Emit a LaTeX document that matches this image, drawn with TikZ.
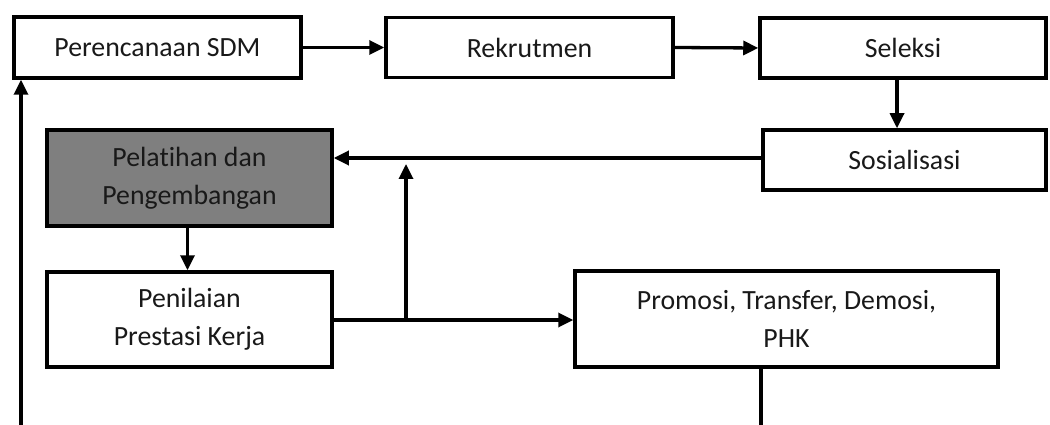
\documentclass[tikz,border=0pt]{standalone}
\usepackage{fontspec}
\setmainfont{Carlito}[Ligatures={CommonOff,ContextualOff}]
\usetikzlibrary{arrows.meta,calc}
\begin{document}
\begin{tikzpicture}[x=1pt,y=-1pt,
  box/.style={draw=black,line width=3.5pt,fill=white,inner sep=0pt,align=center,
    font=\fontsize{27.8}{38}\selectfont,text=black!90},
  arr/.style={line width=3.3pt,-{Triangle[length=15pt,width=14pt]}},
  ln/.style={line width=3.3pt}]
\useasboundingbox (0,0) rectangle (1050,425);
\node[box,minimum width=287pt,minimum height=61pt] (P) at (157.5,47.5) {Perencanaan SDM};
\node[box,minimum width=287pt,minimum height=60pt] (R) at (529.5,47.5) {Rekrutmen};
\node[box,minimum width=286pt,minimum height=60pt] (S) at (903,48) {Seleksi};
\node[box,minimum width=283pt,minimum height=60pt] (So) at (904.5,160) {Sosialisasi};
\node[box,fill={rgb,255:red,127;green,127;blue,127},minimum width=285pt,minimum height=96pt] (G) at (189.5,178) {Pelatihan dan\\Pengembangan};
\node[box,minimum width=285pt,minimum height=95pt] (Pn) at (189.5,319.5) {Penilaian\\Prestasi Kerja};
\node[box,minimum width=423pt,minimum height=96pt] (Pr) at (786.5,319) {Promosi, Transfer, Demosi,\\PHK};
\coordinate (j) at (406,320);
\coordinate (jt) at (406,164);
\coordinate (sb) at (897,78.5);
\coordinate (pb) at (761,425);
\coordinate (lb) at (21,425);
\draw[arr] (P.east) -- (R.west);
\draw[arr] (R.east) -- (S.west);
\draw[arr] (sb) -- (sb |- So.north);
\draw[arr] ([yshift=2pt]So.west) -- ([yshift=2pt]So.west -| G.east);
\draw[arr] ([xshift=-2pt]G.south) -- ([xshift=-2pt]Pn.north);
\draw[arr] (Pn.east |- j) -- (Pr.west |- j);
\draw[arr] (j) -- (jt);
\draw[ln] (Pr.south -| pb) -- (pb);
\draw[arr] (lb) -- (lb |- P.south);
\end{tikzpicture}
\end{document}
